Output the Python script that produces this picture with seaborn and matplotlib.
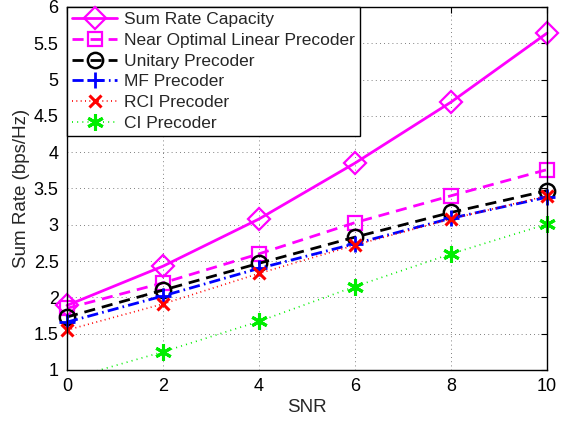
import matplotlib
matplotlib.use("Agg")
import matplotlib.pyplot as plt
from matplotlib.transforms import Bbox, TransformedBbox
import seaborn as sns
import numpy as np

snr = [0, 2, 4, 6, 8, 10]
sum_rate_capacity = [1.89, 2.43, 3.08, 3.85, 4.69, 5.64]
near_optimal = [1.85, 2.20, 2.60, 3.03, 3.40, 3.76]
unitary = [1.73, 2.10, 2.47, 2.83, 3.17, 3.47]
mf = [1.66, 2.02, 2.40, 2.74, 3.09, 3.38]
rci = [1.55, 1.91, 2.33, 2.72, 3.08, 3.40]
ci = [0.87, 1.25, 1.67, 2.15, 2.60, 3.01]

series = [
    ("Sum Rate Capacity", sum_rate_capacity, dict(color="#ff00ff", linestyle="-", marker="D", markersize=11, lw=2.0, mew=1.6)),
    ("Near Optimal Linear Precoder", near_optimal, dict(color="#ff00ff", linestyle=(0, (4, 2.5)), marker="s", markersize=10, lw=2.0, mew=1.6)),
    ("Unitary Precoder", unitary, dict(color="black", linestyle=(0, (4, 2.5)), marker="o", markersize=11, lw=2.0, mew=1.8)),
    ("MF Precoder", mf, dict(color="#0000ff", linestyle=(0, (4, 1.5, 0.6, 1.5)), marker="+", markersize=12, lw=2.0, mew=2.0)),
    ("RCI Precoder", rci, dict(color="#ff0000", linestyle=(0, (0.6, 2)), marker="x", markersize=9, lw=1.2, mew=2.2)),
    ("CI Precoder", ci, dict(color="#00ee00", linestyle=(0, (0.6, 2.5)), marker=(6, 2, 0), markersize=12, lw=1.2, mew=2.2)),
]

sns.set_style("white")
plt.rcParams["font.family"] = ["Liberation Sans", "DejaVu Sans"]

fig = plt.figure(figsize=(5.65, 4.22), dpi=100)
ax = fig.add_axes([67/565, 1-370/422, (547-67)/565, (370-7)/422])

for name, vals, st in series:
    sns.lineplot(x=snr, y=vals, ax=ax, label=name, color=st["color"], linestyle=st["linestyle"],
                 marker=st["marker"], markersize=st["markersize"], linewidth=st["lw"],
                 markeredgewidth=st["mew"], markerfacecolor="none", markeredgecolor=st["color"])

ax.set_xlim(0, 10)
ax.set_ylim(1, 6)

lines = ax.get_lines()
for ln in lines[:5]:
    ln.set_clip_on(False)
# CI: clip only below the x axis, markers at the right edge drawn whole
lines[5].set_clip_box(TransformedBbox(Bbox([[-1, 1], [11, 7]]), ax.transData))

ax.set_xticks([0, 2, 4, 6, 8, 10])
ax.set_yticks([1, 1.5, 2, 2.5, 3, 3.5, 4, 4.5, 5, 5.5, 6])
ax.set_yticklabels(["1", "1.5", "2", "2.5", "3", "3.5", "4", "4.5", "5", "5.5", "6"])
ax.grid(True, color="#555555", linestyle=(0, (1, 4)), linewidth=0.6)
ax.tick_params(direction="in", top=True, right=True, length=4, width=0.8, labelsize=13, colors="black", pad=6)
for s in ax.spines.values():
    s.set_visible(True)
    s.set_color("black")
    s.set_linewidth(1.0)
ax.set_xlabel("SNR", fontsize=13.5, labelpad=3)
ax.set_ylabel("Sum Rate (bps/Hz)", fontsize=13.5, labelpad=3)

leg = ax.legend(loc="upper left", fontsize=12.5, frameon=True, fancybox=False, borderaxespad=0.0,
                handlelength=2.6, labelspacing=0.32, borderpad=0.3, handletextpad=0.4)
leg.get_frame().set_edgecolor("black")
leg.get_frame().set_linewidth(1.0)
leg.get_frame().set_alpha(1)
leg.set_zorder(10)

fig.savefig("out.png", dpi=100)
